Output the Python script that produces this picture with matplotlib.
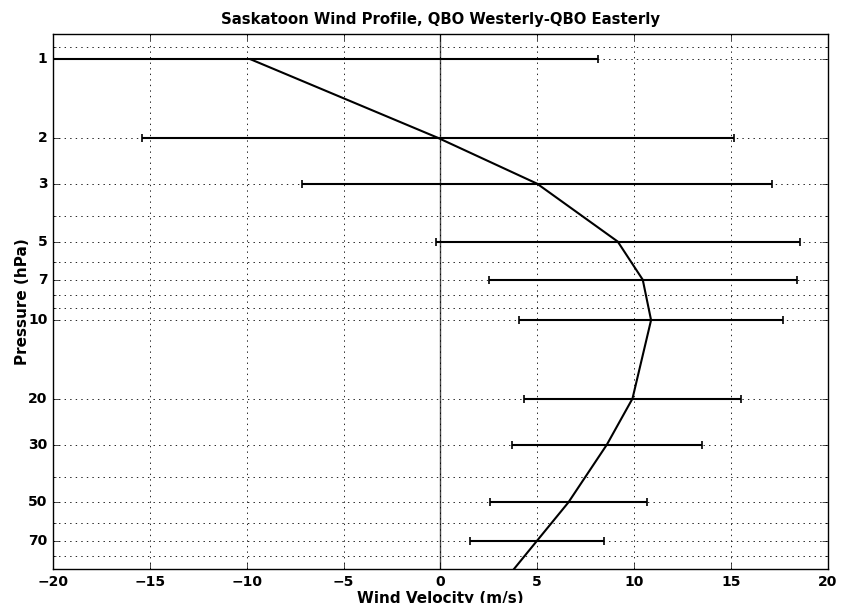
import matplotlib
matplotlib.use('Agg')
import matplotlib.pyplot as plt
import matplotlib.ticker as ticker

plt.style.use('classic')

# pressure levels (hPa) and mean wind difference (m/s)
pressure = [1, 2, 3, 5, 7, 10, 20, 30, 50, 70, 100]
wind = [-9.8, -0.13, 5.0, 9.16, 10.45, 10.88, 9.92, 8.6, 6.61, 5.0, 3.3]
spread = [17.93, 15.28, 12.15, 9.41, 7.95, 6.8, 5.59, 4.9, 4.06, 3.45, 3.0]

ticks_p = [1, 2, 3, 5, 7, 10, 20, 30, 50, 70]

fig = plt.figure(figsize=(8.42, 6.03), dpi=100, facecolor='white')
ax = fig.add_axes([0.063, 0.0564, 0.92, 0.8872])

ax.axvline(0, color='k', lw=1, alpha=0.7)
ax.errorbar(wind, pressure, xerr=spread, color='k', lw=1.5, capsize=3,
            elinewidth=1.5, capthick=1.2)

ax.set_yscale('log')
ax.set_ylim(90, 0.8)
ax.set_xlim(-20, 20)
ax.set_yticks(ticks_p)
ax.yaxis.set_major_formatter(ticker.FormatStrFormatter('%d'))
ax.yaxis.set_minor_formatter(ticker.NullFormatter())
ax.grid(True, which='both', color='k', linestyle=':', lw=0.6)

for lab in ax.get_xticklabels() + ax.get_yticklabels():
    lab.set_fontweight('bold')
    lab.set_fontsize(10)

ax.set_title('Saskatoon Wind Profile, QBO Westerly-QBO Easterly',
             fontsize=10.7, fontweight='bold', pad=7)
ax.set_xlabel('Wind Velocity (m/s)', fontsize=11, fontweight='bold', labelpad=2)
ax.set_ylabel('Pressure (hPa)', fontsize=11, fontweight='bold', labelpad=-1)

fig.savefig('out.png', dpi=100, facecolor='white')
